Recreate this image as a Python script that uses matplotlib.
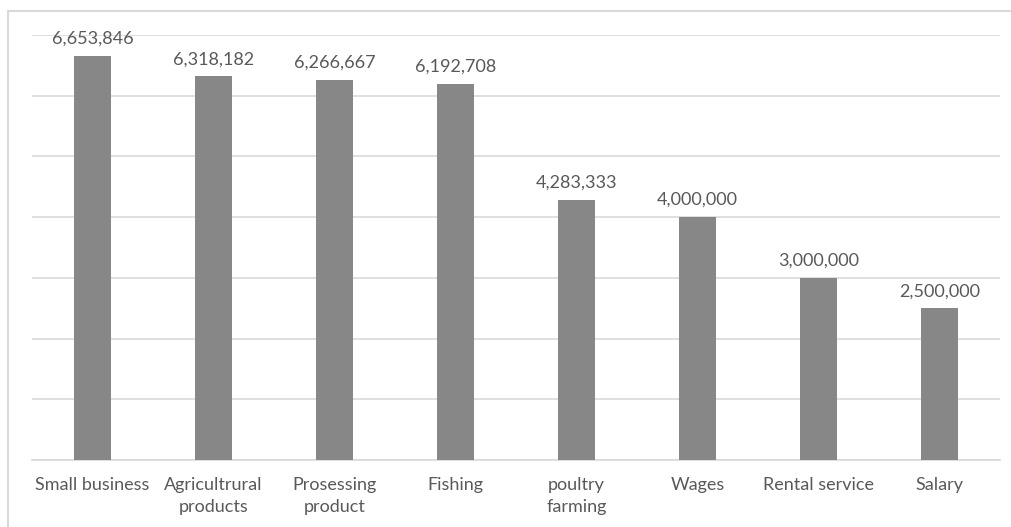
import numpy as np
import matplotlib
matplotlib.use('Agg')
import matplotlib.pyplot as plt
from matplotlib.patches import Rectangle

# income sources and average values
categories = ['Small business', 'Agricultrural\nproducts', 'Prosessing\nproduct', 'Fishing',
              'poultry\nfarming', 'Wages', 'Rental service', 'Salary']
values = [6653846, 6318182, 6266667, 6192708, 4283333, 4000000, 3000000, 2500000]

plt.rcParams['font.family'] = ['Lato', 'DejaVu Sans']
txt = '#595959'

fig = plt.figure(figsize=(10.11, 5.27), dpi=100)
ax = fig.add_axes([32/1011, 67/527, 968/1011, 425/527])

x = np.arange(len(categories))
ax.bar(x, values, width=0.31, color='#878787', zorder=3)

for xi, v in zip(x, values):
    ax.annotate(f'{v:,}', (xi, v), xytext=(0, 6.5), textcoords='offset points',
                ha='center', va='bottom', fontsize=13, color=txt)

ax.set_xlim(-0.5, len(categories) - 0.5)
ax.set_ylim(0, 7000000)
ax.set_yticks(np.arange(0, 7000001, 1000000))
ax.yaxis.grid(True, color='#d9d9d9', linewidth=1.2, zorder=0)
ax.tick_params(axis='y', left=False, labelleft=False)
ax.tick_params(axis='x', bottom=False, labelsize=13, labelcolor=txt, pad=9)
ax.set_xticks(x)
ax.set_xticklabels(categories, linespacing=1.4)
for s in ['top', 'right', 'left']:
    ax.spines[s].set_visible(False)
ax.spines['bottom'].set_color('#d9d9d9')
ax.spines['bottom'].set_linewidth(1.2)

# outer chart frame
fig.patches.append(Rectangle((8/1011, -0.1), 1.2, (527 - 11)/527 + 0.1,
                             transform=fig.transFigure, fill=False,
                             edgecolor='#d9d9d9', linewidth=1.5))

fig.savefig('out.png', dpi=100)
